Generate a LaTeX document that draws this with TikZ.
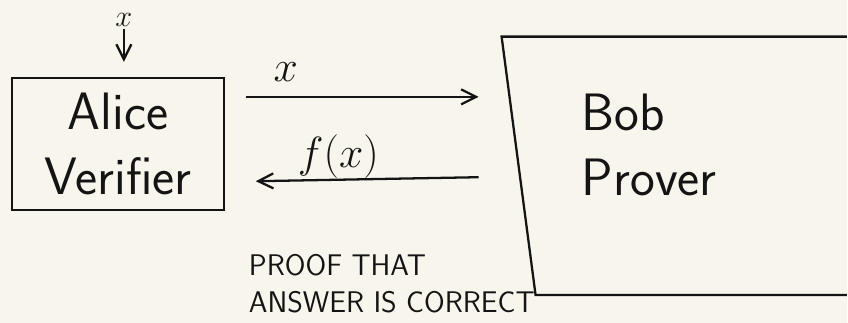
\documentclass[tikz,border=0pt]{standalone}
\usetikzlibrary{arrows.meta,positioning}
\definecolor{paper}{RGB}{248,246,236}
\definecolor{ink}{RGB}{20,20,20}

\begin{document}
\begin{tikzpicture}[
    x=0.02cm, y=-0.02cm,
    box/.style={draw=ink, line width=1.3pt, align=center, text=ink, font=\sffamily\fontsize{30}{37}\selectfont},
    frame/.style={minimum width=6.9cm, minimum height=5.16cm, inner sep=0pt},
    note/.style={align=left, text=ink, font=\sffamily\fontsize{17}{21}\selectfont},
    lbl/.style={text=ink, inner sep=1pt, font=\fontsize{24}{28}\selectfont},
    link/.style={-{Straight Barb[length=3mm, width=3mm]}, line width=1.3pt, draw=ink}
]
\fill[paper] (0,0) rectangle (848,323);
\node[box, minimum width=4.24cm, minimum height=2.64cm] (alice) at (118,144) {Alice\\Verifier};
\node[frame] (bob) at (675,166) {};
\node[box, draw=none, align=left] (bobtext) at (650,145) {Bob\\Prover};
\node[lbl, font=\fontsize{18}{20}\selectfont] (input) at (124,20) {$x$};
\node[note, anchor=west] (proof) at (243,284) {PROOF THAT\\ANSWER IS CORRECT};
% open frame round Bob, left side leaning
\draw[line width=1.3pt, ink] (bob.north east) -- (bob.north west) -- ([xshift=0.68cm]bob.south west) -- (bob.south east);
\draw[link, shorten >=0.3cm] (input) -- (input |- alice.north);
\draw[link, shorten <=0.42cm, shorten >=0.46cm] ([yshift=0.94cm]alice.east) -- ([yshift=0.94cm]alice.east -| bob.west)
    node[lbl, pos=0.22, above=0.25cm] {$x$};
\draw[link, shorten <=0.46cm, shorten >=0.62cm] ([yshift=-0.22cm]bob.west) -- ([yshift=-0.76cm]alice.east)
    node[lbl, pos=0.59, above, inner sep=0pt] {$f(x)$};
\end{tikzpicture}
\end{document}
